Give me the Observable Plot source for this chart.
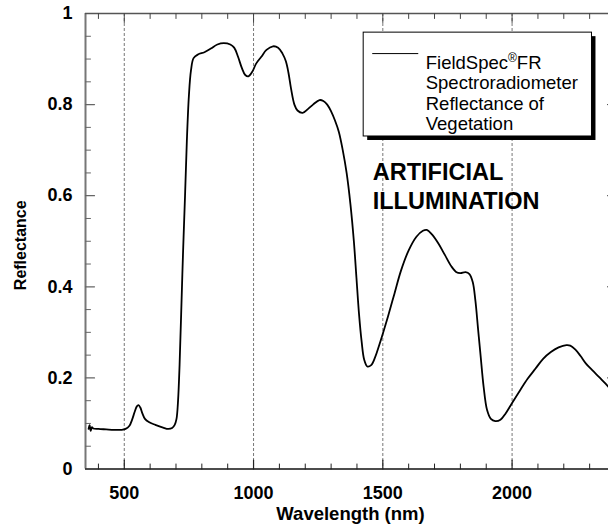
<!DOCTYPE html>
<html>
<head>
<meta charset="utf-8">
<script src="https://cdn.jsdelivr.net/npm/d3@7"></script>
<script src="https://cdn.jsdelivr.net/npm/@observablehq/plot@0.6"></script>
<style>
  html, body { margin: 0; padding: 0; background: white; }
  #wrap { width: 608px; height: 529px; overflow: hidden; }
  #wrap svg { max-width: none !important; }
</style>
</head>
<body>
<div id="wrap"></div>
<script>
// Wavelength (nm)
const wavelength = [362,366,370,375,380,400,430,460,490,505,520,530,540,548,555,562,570,580,595,620,650,670,685,695,702,708,714,720,727,735,742,750,758,768,785,810,835,860,885,910,925,940,955,968,980,995,1010,1030,1050,1075,1095,1112,1125,1135,1145,1158,1170,1190,1210,1230,1255,1270,1285,1300,1315,1330,1345,1360,1375,1388,1398,1408,1418,1428,1440,1455,1470,1485,1500,1520,1545,1570,1600,1630,1655,1670,1690,1715,1740,1765,1785,1800,1820,1835,1848,1858,1868,1878,1890,1903,1918,1935,1955,1975,2000,2030,2060,2090,2120,2150,2180,2210,2225,2245,2265,2285,2310,2340,2365,2390];
// Reflectance
const reflectance = [0.088,0.096,0.084,0.092,0.089,0.088,0.087,0.086,0.086,0.088,0.095,0.108,0.125,0.137,0.140,0.135,0.122,0.110,0.103,0.097,0.091,0.088,0.090,0.097,0.110,0.150,0.230,0.340,0.470,0.600,0.720,0.820,0.875,0.902,0.910,0.915,0.923,0.932,0.935,0.932,0.925,0.905,0.880,0.865,0.862,0.872,0.890,0.905,0.920,0.928,0.925,0.912,0.895,0.870,0.835,0.800,0.787,0.782,0.790,0.800,0.810,0.808,0.800,0.785,0.765,0.740,0.700,0.650,0.580,0.500,0.420,0.340,0.280,0.240,0.225,0.228,0.245,0.270,0.297,0.335,0.385,0.435,0.480,0.510,0.523,0.525,0.515,0.495,0.470,0.445,0.432,0.430,0.432,0.428,0.410,0.370,0.310,0.250,0.180,0.130,0.110,0.105,0.108,0.122,0.145,0.172,0.198,0.220,0.242,0.257,0.267,0.272,0.271,0.262,0.248,0.232,0.217,0.200,0.185,0.170];

const xDomain = [350, 2400];
const yDomain = [0, 1];
const xLabelTicks = [500, 1000, 1500, 2000];
const xMinorTicks = [400,600,700,800,900,1100,1200,1300,1400,1600,1700,1800,1900,2100,2200,2300];
const yLabelTicks = [0, 0.2, 0.4, 0.6, 0.8, 1];
const yMajorTicks = [0.2, 0.4, 0.6, 0.8];
const yMinorTicks = [0.05,0.1,0.15,0.25,0.3,0.35,0.45,0.5,0.55,0.65,0.7,0.75,0.85,0.9,0.95];

const legendLines = ["FieldSpec®FR", "Spectroradiometer", "Reflectance of", "Vegetation"];
const annotationLines = ["ARTIFICIAL", "ILLUMINATION"];
const xTitle = "Wavelength (nm)";
const yTitle = "Reflectance";

// legend / annotation anchor points (data space)
const legendBox = {x1: 1426, x2: 2309, y1: 0.730, y2: 0.958};
const legendSample = {x1: 1461, x2: 1639, y: 0.912};
const legendText = {x: 1666, y: 0.910};
const annotation = {x: 1461, y: 0.679};

const data = wavelength.map((w, i) => ({w, r: reflectance[i]}));

const tickShape = {
  draw(context, l) { context.moveTo(0, 0); context.lineTo(0, -l); }
};

const font = "'Liberation Sans', Arial, Helvetica, sans-serif";

const plot = Plot.plot({
  width: 615,
  height: 529,
  marginLeft: 85,
  marginRight: 0,
  marginTop: 13,
  marginBottom: 60.5,
  x: {domain: xDomain},
  y: {domain: yDomain},
  style: {fontFamily: font, background: "white", color: "black", maxWidth: "none"},
  marks: [
    // dotted grid
    Plot.ruleX(xLabelTicks, {stroke: "#777", strokeDasharray: "3,2", strokeWidth: 1}),
    // frame
    Plot.ruleX([xDomain[0]], {stroke: "#777", strokeWidth: 2}),
    Plot.ruleX([xDomain[1]], {stroke: "#333", strokeWidth: 1.5}),
    Plot.ruleY([yDomain[1]], {stroke: "#555", strokeWidth: 1.5}),
    Plot.ruleY([yDomain[0]], {stroke: "#111", strokeWidth: 1.5}),
    // bottom ticks
    Plot.vector(xMinorTicks, {x: d => d, y: 0, length: 5, rotate: 0, anchor: "start", shape: tickShape, stroke: "#222", strokeWidth: 1}),
    Plot.vector(xLabelTicks, {x: d => d, y: 0, length: 9, rotate: 0, anchor: "start", shape: tickShape, stroke: "#222", strokeWidth: 1.2}),
    // top ticks
    Plot.vector(xMinorTicks, {x: d => d, y: 1, length: 5, rotate: 180, anchor: "start", shape: tickShape, stroke: "#444", strokeWidth: 1}),
    Plot.vector(xLabelTicks, {x: d => d, y: 1, length: 9, rotate: 180, anchor: "start", shape: tickShape, stroke: "#444", strokeWidth: 1}),
    // left ticks
    Plot.vector(yMinorTicks, {x: xDomain[0], y: d => d, length: 5, rotate: 90, anchor: "start", shape: tickShape, stroke: "#666", strokeWidth: 1}),
    Plot.vector(yMajorTicks, {x: xDomain[0], y: d => d, length: 9, rotate: 90, anchor: "start", shape: tickShape, stroke: "#666", strokeWidth: 1.2}),
    // right ticks
    Plot.vector(yMajorTicks, {x: xDomain[1], y: d => d, length: 8, rotate: 270, anchor: "start", shape: tickShape, stroke: "#333", strokeWidth: 1}),
    // axis labels
    Plot.axisX({ticks: xLabelTicks, tickSize: 0, tickPadding: 17, tickFormat: d => String(d), fontSize: 18, fontWeight: "bold", label: null, fill: "black"}),
    Plot.axisY({ticks: yLabelTicks, tickSize: 0, tickPadding: 13, tickFormat: d => String(d), fontSize: 18, fontWeight: "bold", label: null, fill: "black"}),
    Plot.text([xTitle], {frameAnchor: "bottom", textAnchor: "middle", lineAnchor: "top", dy: 38, fontSize: 18.5, fontWeight: "bold", fill: "black"}),
    Plot.text([yTitle], {frameAnchor: "left", textAnchor: "middle", dx: -65, dy: 4, rotate: -90, fontSize: 16, fontWeight: "bold", fill: "black"}),
    // spectrum
    Plot.line(data, {x: "w", y: "r", stroke: "black", strokeWidth: 1.8, curve: "catmull-rom"}),
    // legend
    Plot.rect([legendBox], {x1: "x1", x2: "x2", y1: "y1", y2: "y2", fill: "black", dx: 4, dy: 4}),
    Plot.rect([legendBox], {x1: "x1", x2: "x2", y1: "y1", y2: "y2", fill: "white", stroke: "black", strokeWidth: 1}),
    Plot.ruleY([legendSample], {x1: "x1", x2: "x2", y: "y", stroke: "black", strokeWidth: 1}),
    Plot.text([legendLines.join("\n")], {x: legendText.x, y: legendText.y, textAnchor: "start", lineAnchor: "top", lineHeight: 1.1, fontSize: 18.5, fill: "black"}),
    // annotation
    Plot.text([annotationLines.join("\n")], {x: annotation.x, y: annotation.y, textAnchor: "start", lineAnchor: "top", lineHeight: 1.23, fontSize: 23.5, fontWeight: "bold", fill: "black"})
  ]
});

// superscript the registered sign
d3.select(plot).selectAll("tspan").each(function() {
  const t = d3.select(this);
  if (t.text() === legendLines[0]) {
    const parts = legendLines[0].split("®");
    t.text(parts[0]);
    t.append("tspan").attr("font-size", 12).attr("dy", -7).text("®");
    t.append("tspan").attr("dy", 7).text(parts[1]);
  }
});

plot.style.maxWidth = "none";
document.getElementById("wrap").appendChild(plot);
</script>
</body>
</html>
